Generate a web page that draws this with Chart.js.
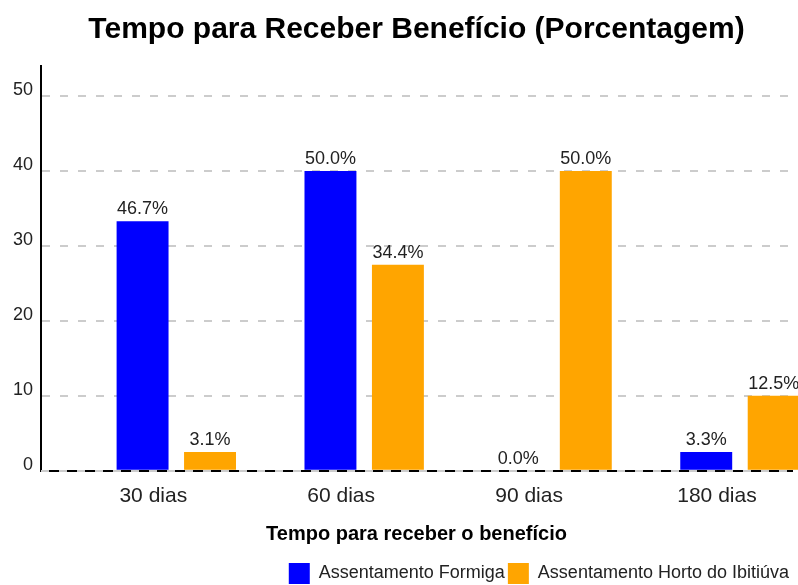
<!DOCTYPE html>
<html>
<head>
<meta charset="utf-8">
<script src="https://cdn.jsdelivr.net/npm/chart.js@4"></script>
<style>
  html, body { margin: 0; padding: 0; background: #fff; overflow: hidden; }
  #wrap { width: 798px; height: 585px; overflow: hidden; }
</style>
</head>
<body>
<div id="wrap">
  <canvas id="grafico" width="834" height="594"></canvas>
</div>
<script>
// dados
const categorias = ['30 dias', '60 dias', '90 dias', '180 dias'];
const formiga = [33.3, 40, 0, 2.5];
const horto = [2.5, 27.5, 40, 10];
const formigaRotulos = ['46.7%', '50.0%', '0.0%', '3.3%'];
const hortoRotulos = ['3.1%', '34.4%', '50.0%', '12.5%'];
const yTicks = [0, 10, 20, 30, 40, 50];
const yMax = 54;

Chart.defaults.font.family = '"Liberation Sans", Arial, sans-serif';
Chart.defaults.color = '#222';

// escreve o rotulo em cima de cada barra
const rotulosBarras = {
  id: 'rotulosBarras',
  afterDatasetsDraw(chart) {
    const ctx = chart.ctx;
    ctx.save();
    ctx.font = '18px "Liberation Sans", Arial, sans-serif';
    ctx.fillStyle = '#222';
    ctx.textAlign = 'center';
    ctx.textBaseline = 'bottom';
    chart.data.datasets.forEach((ds, d) => {
      const meta = chart.getDatasetMeta(d);
      meta.data.forEach((bar, i) => {
        ctx.fillText(ds.rotulos[i], bar.x, bar.y - 3);
      });
    });
    ctx.restore();
  }
};

const ctx = document.getElementById('grafico').getContext('2d');
new Chart(ctx, {
  type: 'bar',
  data: {
    datasets: [
      {
        label: 'Assentamento Formiga',
        data: formiga.map((v, i) => ({ x: i, y: v })),
        rotulos: formigaRotulos,
        backgroundColor: '#0000ff',
        categoryPercentage: 0.718,
        barPercentage: 0.77,
        clip: false,
      },
      {
        label: 'Assentamento Horto do Ibitiúva',
        data: horto.map((v, i) => ({ x: i, y: v })),
        rotulos: hortoRotulos,
        backgroundColor: '#ffa500',
        categoryPercentage: 0.718,
        barPercentage: 0.77,
        clip: false,
      }
    ]
  },
  options: {
    responsive: false,
    animation: false,
    layout: {
      padding: { left: 5, right: 42, top: 0, bottom: 0 }
    },
    scales: {
      x: {
        type: 'linear',
        min: -0.72,
        max: 3.277,
        offset: false,
        grid: { display: false },
        border: { display: true, color: '#000', width: 2, z: 1 },
        ticks: {
          stepSize: 1,
          includeBounds: false,
          padding: 5,
          labelOffset: -23,
          maxRotation: 0,
          autoSkip: false,
          font: { size: 21 },
          color: '#222',
          callback: (value) => categorias[value] ?? ''
        },
        title: {
          display: true,
          text: 'Tempo para receber o benefício',
          font: { size: 20, weight: 'bold' },
          color: '#000',
          padding: { top: 8, bottom: 14 }
        }
      },
      y: {
        min: 0,
        max: yMax,
        afterBuildTicks: (scale) => {
          scale.ticks = yTicks.map(v => ({ value: v }));
        },
        grid: {
          color: '#cccccc',
          lineWidth: 2,
          drawTicks: false
        },
        border: { display: true, color: '#000', width: 2, dash: [8, 10], z: 1 },
        ticks: {
          padding: 8,
          labelOffset: -6,
          font: { size: 18 },
          color: '#222'
        }
      },
      // so a linha tracejada do zero, por cima do eixo preto
      yZero: {
        position: 'left',
        min: 0,
        max: yMax,
        afterBuildTicks: (scale) => {
          scale.ticks = [{ value: 0 }];
        },
        grid: {
          color: '#cccccc',
          lineWidth: 2,
          drawTicks: false,
          z: 2
        },
        border: { display: false, dash: [8, 10] },
        ticks: { display: false }
      }
    },
    plugins: {
      title: {
        display: true,
        fullSize: false,
        text: 'Tempo para Receber Benefício (Porcentagem)',
        font: { size: 30, weight: 'bold' },
        color: '#000',
        padding: { top: 12, bottom: 18 }
      },
      legend: {
        position: 'bottom',
        align: 'end',
        labels: {
          boxWidth: 21,
          boxHeight: 21,
          padding: 3,
          font: { size: 18 },
          color: '#222'
        }
      },
      tooltip: { enabled: false }
    }
  },
  plugins: [rotulosBarras]
});
</script>
</body>
</html>
